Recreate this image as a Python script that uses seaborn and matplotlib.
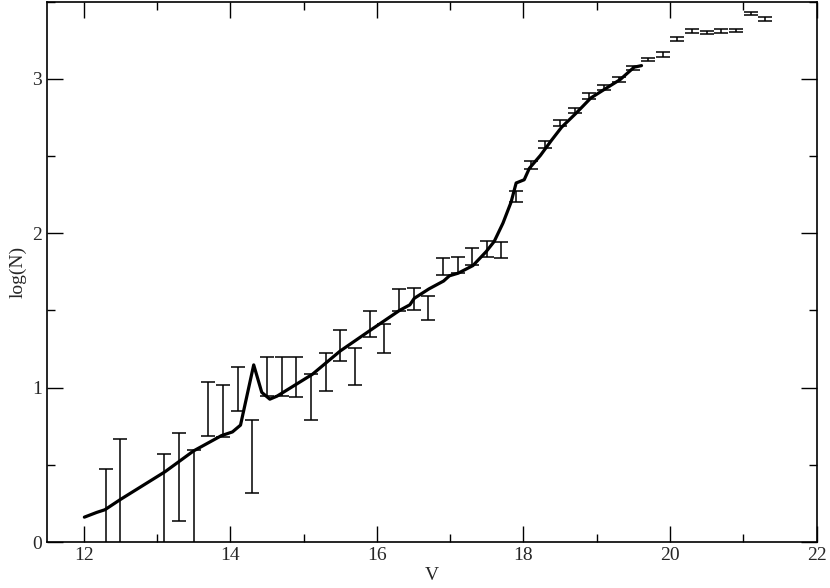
import numpy as np
import pandas as pd
import matplotlib
matplotlib.use("Agg")
import matplotlib.pyplot as plt
import seaborn as sns
from matplotlib.ticker import MultipleLocator

# error bar points: V, lower and upper log(N)
err_v = [12.3, 12.5, 13.1, 13.3, 13.5, 13.7, 13.9, 14.1, 14.3, 14.5, 14.7, 14.9,
         15.1, 15.3, 15.5, 15.7, 15.9, 16.1, 16.3, 16.5, 16.7, 16.9, 17.1, 17.3,
         17.5, 17.7, 17.9, 18.1, 18.3, 18.5, 18.7, 18.9, 19.1, 19.3, 19.5, 19.7,
         19.9, 20.1, 20.3, 20.5, 20.7, 20.9, 21.1, 21.3]
err_lo = [-0.1, -0.1, -0.1, 0.134, -0.1, 0.689, 0.677, 0.85, 0.319, 0.945, 0.945, 0.94,
          0.789, 0.979, 1.174, 1.018, 1.33, 1.225, 1.493, 1.505, 1.437, 1.729, 1.741, 1.797,
          1.848, 1.841, 2.204, 2.415, 2.552, 2.695, 2.776, 2.87, 2.927, 2.98, 3.058, 3.112,
          3.143, 3.245, 3.297, 3.287, 3.297, 3.3, 3.41, 3.372]
err_hi = [0.475, 0.67, 0.567, 0.706, 0.597, 1.037, 1.02, 1.135, 0.789, 1.2, 1.2, 1.2,
          1.088, 1.225, 1.376, 1.254, 1.497, 1.415, 1.641, 1.648, 1.59, 1.838, 1.848, 1.902,
          1.948, 1.94, 2.27, 2.466, 2.598, 2.734, 2.812, 2.905, 2.958, 3.012, 3.085, 3.136,
          3.17, 3.27, 3.319, 3.306, 3.319, 3.324, 3.43, 3.4]

# model curve
line_v = [12.01, 12.18, 12.29, 12.5, 13.11, 13.5, 13.88, 14.03, 14.14, 14.32, 14.43,
          14.54, 14.64, 15.12, 15.5, 15.91, 16.31, 16.45, 16.51, 16.71, 16.91, 16.99,
          17.11, 17.31, 17.49, 17.6, 17.72, 17.83, 17.9, 18.01, 18.08, 18.23, 18.38,
          18.52, 18.72, 18.92, 19.12, 19.32, 19.51, 19.61]
line_logn = [0.161, 0.192, 0.209, 0.275, 0.455, 0.59, 0.689, 0.713, 0.757, 1.147, 0.969,
             0.925, 0.945, 1.086, 1.237, 1.371, 1.5, 1.536, 1.578, 1.639, 1.69, 1.724,
             1.741, 1.79, 1.88, 1.946, 2.065, 2.2, 2.325, 2.346, 2.42, 2.503, 2.6,
             2.686, 2.778, 2.876, 2.936, 2.995, 3.075, 3.085]

sns.set_theme(style="ticks")
plt.rcParams["font.family"] = ["Liberation Serif", "DejaVu Serif"]

fig = plt.figure(figsize=(8.3, 5.88), dpi=100)
ax = fig.add_axes([0.0566, 0.0782, 0.9274, 0.9192])

lo = np.array(err_lo)
hi = np.array(err_hi)
mid = (lo + hi) / 2
ax.errorbar(err_v, mid, yerr=[mid - lo, hi - mid], fmt="none", ecolor="black",
            elinewidth=1.1, capsize=5, capthick=1.1)

df = pd.DataFrame({"V": line_v, "logN": line_logn})
sns.lineplot(data=df, x="V", y="logN", sort=False, color="black", linewidth=2.3,
             ax=ax, estimator=None)

ax.set_xlim(11.5, 22)
ax.set_ylim(0, 3.5)
ax.xaxis.set_major_locator(MultipleLocator(2))
ax.xaxis.set_minor_locator(MultipleLocator(1))
ax.yaxis.set_major_locator(MultipleLocator(1))
ax.yaxis.set_minor_locator(MultipleLocator(0.5))
ax.tick_params(which="both", direction="in", top=True, right=True, labelsize=14,
               width=1, color="black")
ax.tick_params(which="major", length=11.5)
ax.tick_params(which="minor", length=6)
for s in ax.spines.values():
    s.set_linewidth(1.2)
    s.set_color("black")

ax.set_xlabel("V", fontsize=14, labelpad=2)
ax.set_ylabel("log(N)", fontsize=14, labelpad=4)

fig.savefig("out.png", dpi=100)
